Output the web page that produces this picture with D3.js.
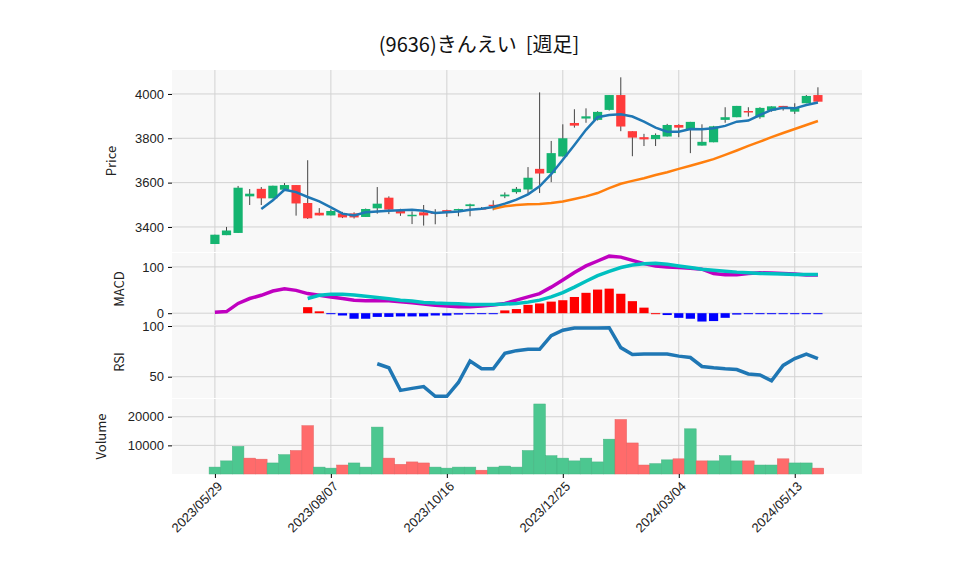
<!DOCTYPE html><html><head><meta charset="utf-8">
<script src="https://cdn.jsdelivr.net/npm/d3@7"></script>
<style>body{margin:0;background:#fff}svg{font-family:"Noto Sans CJK JP","Noto Sans",sans-serif}</style></head><body>
<svg id="c" width="958" height="575"></svg>
<script>
const startDate = "2023-05-29";
const opens  = [3323,3363,3373,3538,3572,3529,3568,3589,3508,3464,3452,3461,3461,3445,3484,3532,3472,3449,3466,3466,3476,3475,3494,3485,3500,3538,3557,3569,3662,3643,3718,3869,3889,3883,3928,3995,3832,3805,3796,3808,3860,3841,3767,3782,3883,3895,3923,3895,3925,3946,3920,3958,3995];
const closes = [3365,3384,3577,3550,3529,3586,3589,3506,3439,3452,3472,3443,3443,3481,3505,3478,3461,3455,3452,3463,3463,3481,3502,3483,3497,3546,3572,3622,3641,3733,3800,3857,3899,3919,3995,3853,3803,3795,3815,3860,3848,3874,3784,3854,3895,3946,3921,3937,3944,3940,3940,3991,3965];
const highs  = [3365,3400,3585,3571,3580,3586,3598,3589,3701,3485,3479,3468,3466,3483,3580,3538,3482,3470,3499,3480,3478,3482,3505,3490,3520,3556,3580,3670,4007,3788,3863,3931,3935,3922,3995,4075,3832,3820,3822,3865,3863,3874,3863,3856,3940,3946,3940,3940,3944,3946,3958,3995,4030];
const lows   = [3323,3363,3373,3499,3499,3529,3568,3451,3436,3452,3452,3440,3438,3445,3460,3458,3450,3413,3406,3412,3445,3448,3448,3478,3475,3530,3550,3550,3553,3602,3718,3848,3870,3880,3925,3832,3719,3765,3765,3808,3805,3733,3767,3782,3870,3895,3898,3888,3920,3925,3910,3958,3965];
const ma1 = [null,null,null,null,3481,3520,3568,3557,3535,3515,3488,3460,3452,3466,3470,3473,3475,3478,3473,3463,3466,3470,3478,3482,3490,3505,3523,3547,3583,3638,3703,3770,3838,3895,3905,3908,3898,3875,3848,3830,3830,3842,3841,3845,3856,3875,3880,3905,3928,3938,3935,3950,3961];
const ma2 = [null,null,null,null,null,null,null,null,null,null,null,null,null,null,null,null,null,null,null,null,null,null,null,null,3482,3493,3499,3502,3503,3508,3515,3526,3538,3553,3575,3595,3608,3620,3634,3647,3662,3676,3691,3706,3725,3745,3766,3785,3805,3824,3842,3860,3878];
const macdZ = [187,185,160,145,135,122,115,120,130,135,140,145,150,152,152,152,155,158,162,166,168,170,170,168,165,160,150,140,130,110,88,65,45,30,15,18,28,38,45,48,50,52,55,68,72,72,68,66,67,68,70,73,73];
const macd = macdZ.map(z => +((190 - z) / 1.42).toFixed(1));
const signalZ = [null,null,null,null,null,null,null,null,145,135,132,132,134,138,142,146,150,153,157,159,160,161,163,163,163,162,160,156,150,140,127,110,92,75,62,50,42,38,37,40,45,50,55,58,61,64,66,68,69,70,71,71,71];
const signal = signalZ.map(z => z == null ? null : +((190 - z) / 1.42).toFixed(1));
const hist = [null,null,null,null,null,null,null,null,13,4,-1,-5,-12,-12,-8,-8,-7,-7,-7,-5,-5,-3,-2,-1,-1,6,9,18,21,25,28,35,44,51,53,42,26,12,0,-4,-10,-12,-18,-17,-10,-3,-1,-1,-1,-1,-1,-1,-1];
const rsiZ = [null,null,null,null,null,null,null,null,null,null,null,null,null,null,340,352,418,412,407,435,435,395,332,355,355,310,302,298,298,258,242,236,236,236,235,293,313,312,312,312,318,322,348,352,355,357,370,373,390,345,325,312,325];
const rsi = rsiZ.map(z => z == null ? null : +(100 - (z - 230) * 50 / 148).toFixed(1));
const volZ = [648,630,588,622,625,636,612,600,528,648,651,642,636,648,532,622,640,633,636,648,651,648,648,657,648,645,648,600,465,615,622,630,622,633,567,510,578,642,638,627,624,537,630,630,615,630,630,642,642,624,636,636,651];
const volumes = volZ.map(z => Math.round((668 - z) * 10000 / 83));
const priceTicks = [3400,3600,3800,4000];
const macdTicks = [0,100];
const rsiTicks = [50,100];
const volTicks = [10000,20000];
const xTickIdx = [0,10,20,30,40,50];

const parse = d3.timeParse("%Y-%m-%d"), fmt = d3.timeFormat("%Y/%m/%d");
const dates = opens.map((_, i) => d3.timeWeek.offset(parse(startDate), i));
const N = opens.length;
const svg = d3.select("#c");
const L = 172, R = 862;
const x = d3.scaleLinear().domain([-3.7, 55.8]).range([L, R]);
const bw = 9.2;
const panels = [
  {top:70, bot:252, dom:[3287,4108], ticks:priceTicks, label:"Price", lx:116},
  {top:253, bot:325, dom:[-25.5,130], ticks:macdTicks, label:"MACD", lx:124},
  {top:326, bot:398, dom:[29,100], ticks:rsiTicks, label:"RSI", lx:124},
  {top:399, bot:474, dom:[0,26200], ticks:volTicks, label:"Volume", lx:106}
];
panels.forEach(p => {
  p.y = d3.scaleLinear().domain(p.dom).range([p.bot, p.top]);
  svg.append("rect").attr("x", L).attr("y", p.top).attr("width", R - L).attr("height", p.bot - p.top).attr("fill", "#f8f8f8");
  const g = svg.append("g");
  xTickIdx.forEach(i => g.append("line").attr("x1", x(i)).attr("x2", x(i)).attr("y1", p.top).attr("y2", p.bot).attr("stroke", "#d2d2d2").attr("stroke-width", 1));
  p.ticks.forEach(t => g.append("line").attr("x1", L).attr("x2", R).attr("y1", p.y(t)).attr("y2", p.y(t)).attr("stroke", "#d2d2d2").attr("stroke-width", 1));
  const ax = svg.append("g").attr("transform", `translate(${L},0)`).call(d3.axisLeft(p.y).tickValues(p.ticks).tickSize(4).tickPadding(4).tickFormat(d3.format("d")));
  ax.select(".domain").remove();
  ax.selectAll("text").attr("font-size", 13).attr("fill", "#222");
  svg.append("text").attr("transform", `translate(${p.lx},${(p.top + p.bot) / 2}) rotate(-90)`).attr("text-anchor", "middle").attr("font-size", 13).attr("fill", "#222").text(p.label);
});
const [P, M, S, V] = panels;
const up = "#14b470", dn = "#ff3b3b";
const cg = svg.append("g");
d3.range(N).forEach(i => {
  const c = closes[i] >= opens[i] ? up : dn;
  cg.append("line").attr("x1", x(i)).attr("x2", x(i)).attr("y1", P.y(highs[i])).attr("y2", P.y(lows[i])).attr("stroke", "#444").attr("stroke-width", 1);
  const y1 = P.y(Math.max(opens[i], closes[i])), y2 = P.y(Math.min(opens[i], closes[i]));
  cg.append("rect").attr("x", x(i) - bw / 2).attr("y", y1).attr("width", bw).attr("height", Math.max(1.5, y2 - y1)).attr("fill", c);
});
const line = (ys, yS) => d3.line().defined(d => d != null).x((d, i) => x(i)).y(d => yS(d))(ys);
svg.append("path").attr("d", line(ma2, P.y)).attr("fill", "none").attr("stroke", "#ff7f0e").attr("stroke-width", 2.5);
svg.append("path").attr("d", line(ma1, P.y)).attr("fill", "none").attr("stroke", "#1f77b4").attr("stroke-width", 2.5);
hist.forEach((h, i) => {
  if (h == null) return;
  const y0 = M.y(0), y1 = M.y(h);
  svg.append("rect").attr("x", x(i) - bw / 2).attr("y", Math.min(y0, y1)).attr("width", bw).attr("height", Math.max(1, Math.abs(y1 - y0))).attr("fill", h >= 0 ? "#ff0000" : "#0000ff");
});
svg.append("path").attr("d", line(macd, M.y)).attr("fill", "none").attr("stroke", "#c000c0").attr("stroke-width", 3.5);
svg.append("path").attr("d", line(signal, M.y)).attr("fill", "none").attr("stroke", "#00c0c0").attr("stroke-width", 3.5);
svg.append("path").attr("d", line(rsi, S.y)).attr("fill", "none").attr("stroke", "#1f77b4").attr("stroke-width", 3.5);
volumes.forEach((v, i) => {
  const c = (i == 0 || closes[i] >= closes[i - 1]) ? "#4cc790" : "#ff6b6b";
  svg.append("rect").attr("x", x(i) - 5.8).attr("y", V.y(v)).attr("width", 11.6).attr("height", V.y(0) - V.y(v)).attr("fill", c).attr("stroke", d3.color(c).darker(0.3)).attr("stroke-width", 0.5);
});
const xa = svg.append("g").attr("transform", `translate(0,${V.bot})`).call(d3.axisBottom(x).tickValues(xTickIdx).tickSize(4).tickFormat(i => fmt(dates[i])));
xa.select(".domain").remove();
xa.selectAll("text").attr("font-size", 13).attr("fill", "#222").attr("text-anchor", "end").attr("transform", "rotate(-45)").attr("dx", "-0.3em").attr("dy", "0.6em");
svg.append("text").attr("x", 479).attr("y", 52).attr("text-anchor", "middle").attr("font-size", 20).attr("fill", "#111").attr("xml:space", "preserve").style("white-space", "pre").text("(9636)きんえい  [週足]");
</script></body></html>
